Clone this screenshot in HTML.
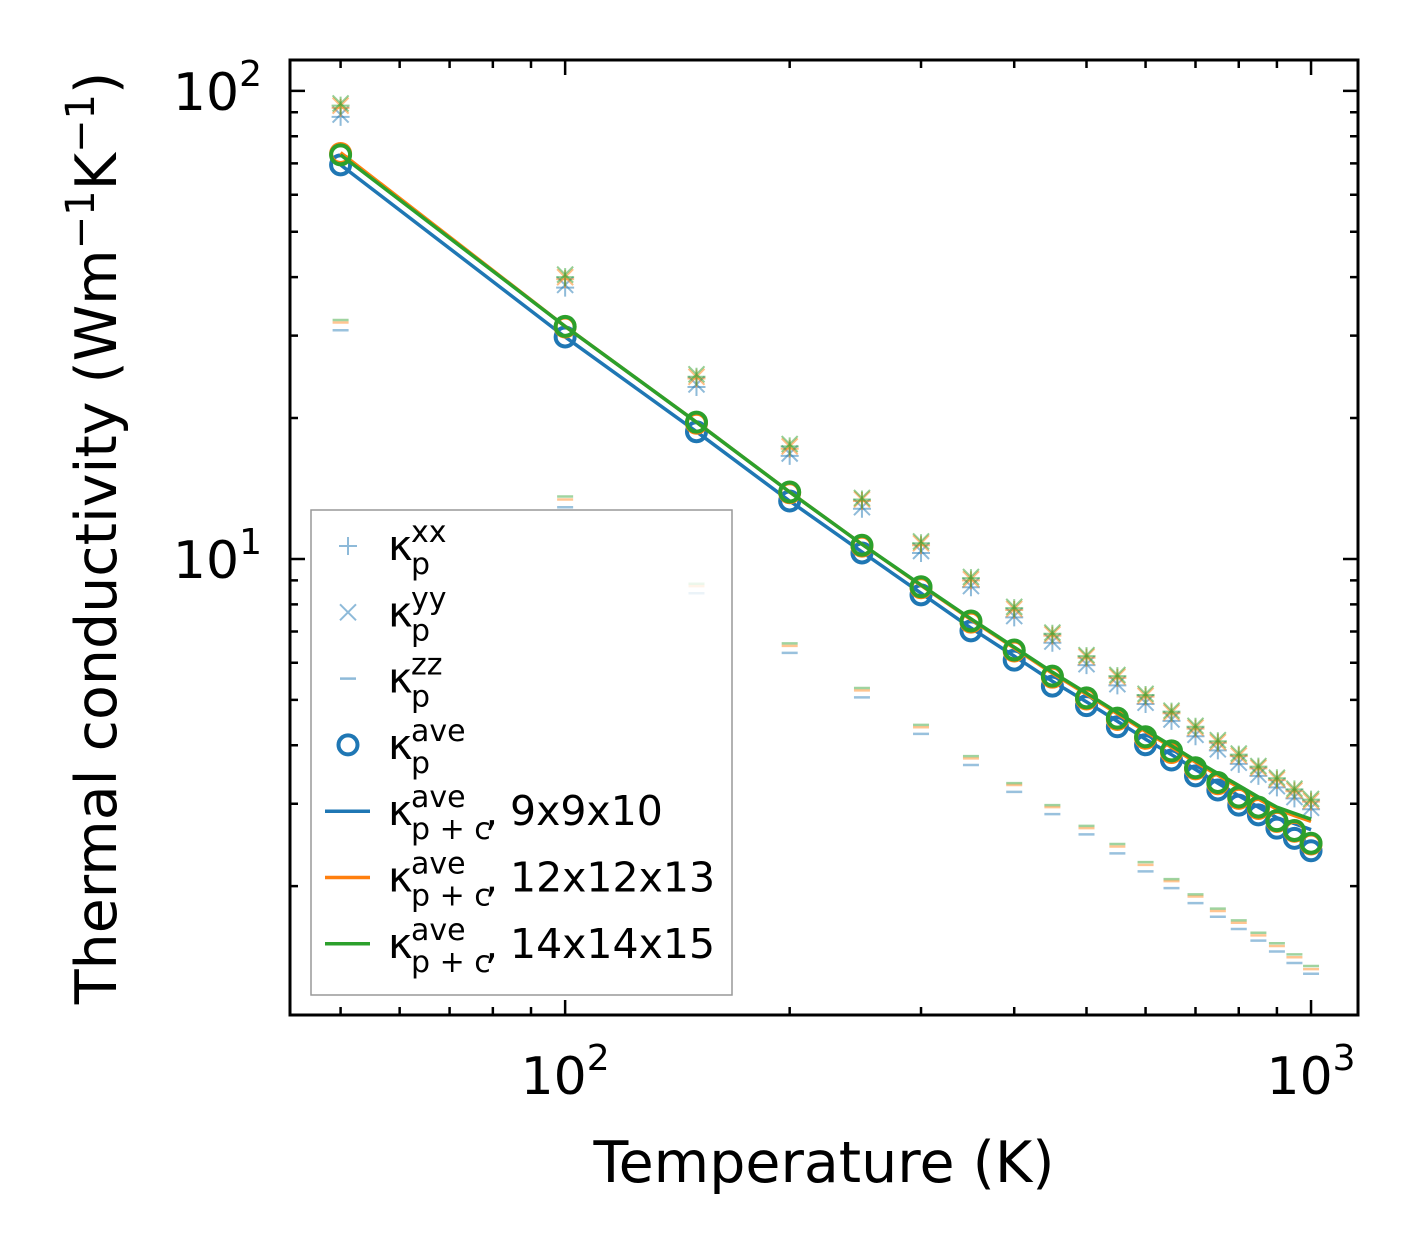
<!DOCTYPE html>
<html><head><meta charset="utf-8"><style>
body{margin:0;background:#fff}
svg text{font-family:"DejaVu Sans","Liberation Sans",sans-serif;fill:#000}
</style></head><body>
<svg id="chart" width="1420" height="1254" viewBox="0 0 1420 1254">
<rect width="1420" height="1254" fill="#fff"/>
<g id="plot"></g>
<g id="axes"></g>
<rect x="290" y="60" width="1068" height="955" fill="none" stroke="#000" stroke-width="3"/>
<text x="824" y="1182" font-size="57" text-anchor="middle">Temperature (K)</text>
<text transform="translate(116,538) rotate(-90)" font-size="57" text-anchor="middle">Thermal conductivity (Wm<tspan dy="-22" font-size="40">−1</tspan><tspan dy="22">K</tspan><tspan dy="-22" font-size="40">−1</tspan><tspan dy="22">)</tspan></text>
<g id="legend"></g>
</svg>
<script>
const temps=[50,100,150,200,250,300,350,400,450,500,550,600,650,700,750,800,850,900,950,1000];
const xxGreen=[93,40,24.5,17.4,13.4,10.8,9.1,7.85,6.92,6.2,5.62,5.12,4.72,4.38,4.08,3.82,3.6,3.4,3.22,3.06];
const xxOrange=[92,39.6,24.3,17.2,13.3,10.7,9.0,7.78,6.86,6.15,5.57,5.08,4.68,4.34,4.05,3.79,3.57,3.37,3.19,3.03];
const xxBlue=[88,38,23.3,16.6,12.8,10.3,8.7,7.5,6.62,5.93,5.37,4.9,4.51,4.18,3.9,3.65,3.44,3.25,3.08,2.92];
const yyGreen=[94,40.5,24.8,17.6,13.5,10.9,9.15,7.9,6.96,6.23,5.65,5.15,4.74,4.4,4.1,3.84,3.61,3.41,3.23,3.07];
const yyOrange=[93,40,24.5,17.4,13.4,10.8,9.05,7.82,6.9,6.18,5.6,5.1,4.7,4.36,4.06,3.8,3.58,3.38,3.2,3.04];
const yyBlue=[89,38.5,23.6,16.8,12.9,10.4,8.75,7.55,6.66,5.96,5.4,4.93,4.54,4.21,3.92,3.67,3.46,3.27,3.1,2.94];
const zzGreen=[32.4,13.6,8.85,6.6,5.3,4.42,3.79,3.32,2.98,2.69,2.46,2.25,2.07,1.92,1.79,1.69,1.59,1.51,1.43,1.35];
const zzOrange=[32.0,13.4,8.75,6.52,5.24,4.37,3.75,3.29,2.95,2.66,2.43,2.22,2.05,1.9,1.77,1.67,1.57,1.49,1.41,1.33];
const zzBlue=[30.8,12.9,8.45,6.3,5.06,4.23,3.63,3.18,2.85,2.58,2.35,2.15,1.98,1.84,1.72,1.62,1.53,1.45,1.37,1.30];
const aveBlue=[69.5,29.8,18.7,13.3,10.3,8.38,7.02,6.08,5.35,4.86,4.38,4.01,3.72,3.44,3.21,2.98,2.84,2.66,2.53,2.38];
const aveOrange=[73.5,31.3,19.5,13.85,10.65,8.68,7.33,6.36,5.59,5.02,4.54,4.14,3.86,3.56,3.31,3.08,2.93,2.75,2.62,2.46];
const aveGreen=[73,31.4,19.6,13.9,10.7,8.72,7.37,6.39,5.62,5.05,4.57,4.17,3.89,3.58,3.33,3.10,2.95,2.76,2.63,2.47];
const lineBlue=[69.5,29.8,18.7,13.3,10.35,8.45,7.12,6.2,5.48,4.95,4.5,4.12,3.82,3.55,3.32,3.12,2.95,2.8,2.72,2.64];
const lineOrange=[73.8,31.4,19.6,13.9,10.75,8.78,7.42,6.45,5.7,5.14,4.67,4.28,3.96,3.68,3.45,3.25,3.07,2.92,2.83,2.75];
const lineGreen=[73,31.4,19.6,13.9,10.75,8.8,7.45,6.48,5.73,5.17,4.7,4.31,3.99,3.71,3.48,3.28,3.1,2.95,2.86,2.78];
const xTicks=[100,1000];
const xTickLabels=["2","3"];
const yTicks=[10,100];
const yTickLabels=["1","2"];

const NS="http://www.w3.org/2000/svg";
const X0=290,X1=1358,Y0=60,Y1=1015;
const xLo=Math.log10(42.77),xHi=Math.log10(1156);
const yLo=Math.log10(1.061),yHi=Math.log10(116.4);
function sx(v){return X0+(Math.log10(v)-xLo)/(xHi-xLo)*(X1-X0);}
function sy(v){return Y1-(Math.log10(v)-yLo)/(yHi-yLo)*(Y1-Y0);}
function mk(tag,attrs,parent){const e=document.createElementNS(NS,tag);for(const k in attrs)e.setAttribute(k,attrs[k]);parent.appendChild(e);return e;}
const plot=document.getElementById('plot');
const axes=document.getElementById('axes');
const C={b:"#1f77b4",o:"#ff7f0e",g:"#2ca02c"};

function drawPlus(vals,col,name){
  const g=mk('g',{opacity:0.5},plot);
  
  
  temps.forEach((t,i)=>{const x=sx(t),y=sy(vals[i]);
    const p=mk('path',{d:`M${x-9},${y}H${x+9}M${x},${y-9}V${y+9}`,stroke:col,'stroke-width':2,fill:'none'},g);
    
    });
}
function drawX(vals,col,name){
  const g=mk('g',{opacity:0.5},plot);
  
  
  temps.forEach((t,i)=>{const x=sx(t),y=sy(vals[i]);
    const p=mk('path',{d:`M${x-8},${y-8}L${x+8},${y+8}M${x-8},${y+8}L${x+8},${y-8}`,stroke:col,'stroke-width':2,fill:'none'},g);
    
    });
}
function drawDash(vals,col,name){
  const g=mk('g',{opacity:0.45},plot);
  
  
  temps.forEach((t,i)=>{const x=sx(t),y=sy(vals[i]);
    const p=mk('path',{d:`M${x-8},${y}H${x+8}`,stroke:col,'stroke-width':2.5,fill:'none'},g);
    
    });
}
function drawCircles(vals,col,name){
  const g=mk('g',{},plot);
  
  
  temps.forEach((t,i)=>{
    const c=mk('circle',{cx:sx(t),cy:sy(vals[i]),r:9.5,fill:'none',stroke:col,'stroke-width':4},g);
    
    });
}
function drawLine(vals,col,name){
  const d=temps.map((t,i)=>(i?'L':'M')+sx(t)+','+sy(vals[i])).join('');
  const p=mk('path',{d:d,stroke:col,'stroke-width':3.5,fill:'none'},plot);
  
  
}
drawPlus(xxBlue,C.b,'kxx-9x9x10');drawX(yyBlue,C.b,'kyy-9x9x10');drawDash(zzBlue,C.b,'kzz-9x9x10');
drawPlus(xxOrange,C.o,'kxx-12x12x13');drawX(yyOrange,C.o,'kyy-12x12x13');drawDash(zzOrange,C.o,'kzz-12x12x13');
drawPlus(xxGreen,C.g,'kxx-14x14x15');drawX(yyGreen,C.g,'kyy-14x14x15');drawDash(zzGreen,C.g,'kzz-14x14x15');
drawCircles(aveBlue,C.b,'kave-9x9x10');drawLine(lineBlue,C.b,'line-9x9x10');
drawCircles(aveOrange,C.o,'kave-12x12x13');drawLine(lineOrange,C.o,'line-12x12x13');
drawCircles(aveGreen,C.g,'kave-14x14x15');drawLine(lineGreen,C.g,'line-14x14x15');

function tick(d,name){const p=mk('path',{d:d,stroke:'#000','stroke-width':2.5},axes);
  
  }
[50,60,70,80,90,200,300,400,500,600,700,800,900].forEach(v=>{const x=sx(v);
  tick(`M${x},${Y1}v-8M${x},${Y0}v8`,'x-minor-tick');});
xTicks.forEach((v,i)=>{const x=sx(v);
  tick(`M${x},${Y1}v-15M${x},${Y0}v15`,'x-major-tick');
  const t=mk('text',{x:x,y:1094,'font-size':52,'text-anchor':'middle'},axes);
  
  
  t.innerHTML=`10<tspan dy="-24" font-size="36">${xTickLabels[i]}</tspan>`;});
[2,3,4,5,6,7,8,9,20,30,40,50,60,70,80,90].forEach(v=>{const y=sy(v);
  tick(`M${X0},${y}h8M${X1},${y}h-8`,'y-minor-tick');});
yTicks.forEach((v,i)=>{const y=sy(v);
  tick(`M${X0},${y}h15M${X1},${y}h-15`,'y-major-tick');
  const t=mk('text',{x:262,y:y+19,'font-size':52,'text-anchor':'end'},axes);
  
  
  t.innerHTML=`10<tspan dy="-24" font-size="36">${yTickLabels[i]}</tspan>`;});

const lg=document.getElementById('legend');
mk('rect',{x:311,y:510,width:421,height:485,fill:'#fff','fill-opacity':0.8,stroke:'#999','stroke-width':1.5},lg);
const items=[
 {m:'plus',sup:'xx',sub:'p',txt:''},
 {m:'x',sup:'yy',sub:'p',txt:''},
 {m:'dash',sup:'zz',sub:'p',txt:''},
 {m:'circle',sup:'ave',sub:'p',txt:''},
 {m:'line',c:C.b,sup:'ave',sub:'p + c',txt:'9x9x10'},
 {m:'line',c:C.o,sup:'ave',sub:'p + c',txt:'12x12x13'},
 {m:'line',c:C.g,sup:'ave',sub:'p + c',txt:'14x14x15'}];
items.forEach((it,i)=>{
  const y=546+i*66.3;const g=mk('g',{},lg);
  
  
  const cx=348;
  if(it.m==='plus')mk('path',{d:`M${cx-9},${y}H${cx+9}M${cx},${y-9}V${y+9}`,stroke:C.b,'stroke-width':2,opacity:0.5},g);
  if(it.m==='x')mk('path',{d:`M${cx-8},${y-8}L${cx+8},${y+8}M${cx-8},${y+8}L${cx+8},${y-8}`,stroke:C.b,'stroke-width':2,opacity:0.5},g);
  if(it.m==='dash')mk('path',{d:`M${cx-8},${y}H${cx+8}`,stroke:C.b,'stroke-width':2.5,opacity:0.5},g);
  if(it.m==='circle')mk('circle',{cx:cx,cy:y,r:9.5,fill:'none',stroke:C.b,'stroke-width':4},g);
  if(it.m==='line')mk('path',{d:`M325,${y}H370`,stroke:it.c,'stroke-width':3.5},g);
  const k=mk('text',{x:388,y:y+14,'font-size':42},g);k.textContent='κ';
  const s1=mk('text',{x:411,y:y-4,'font-size':30},g);s1.textContent=it.sup;
  const s2=mk('text',{x:411,y:y+28,'font-size':30},g);s2.textContent=it.sub;
  if(it.txt){const cm=mk('text',{x:485,y:y+14,'font-size':41},g);cm.textContent=',';
    const t2=mk('text',{x:510,y:y+14,'font-size':41},g);t2.textContent=it.txt;}
});
</script>
</body></html>
